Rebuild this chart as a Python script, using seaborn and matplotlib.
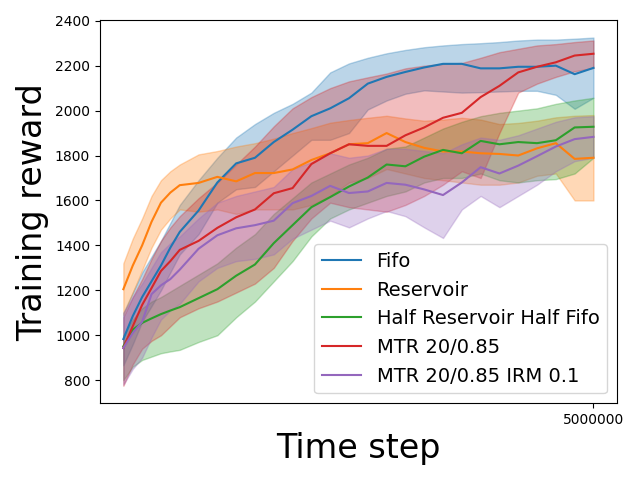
import numpy as np
import pandas as pd
import matplotlib
matplotlib.use("Agg")
import matplotlib.pyplot as plt
import seaborn as sns

# time steps (finer at the start where curves rise fast)
steps = [0, 100000, 200000, 300000, 400000, 500000, 600000, 800000, 1000000, 1200000,
         1400000, 1600000, 1800000, 2000000, 2200000, 2400000, 2600000, 2800000,
         3000000, 3200000, 3400000, 3600000, 3800000, 4000000, 4200000,
         4400000, 4600000, 4800000, 5000000]

labels = ['Fifo', 'Reservoir', 'Half Reservoir Half Fifo',
          'MTR 20/0.85', 'MTR 20/0.85 IRM 0.1']

# mean training reward per method
fifo_mean = [983, 1085, 1170, 1240, 1310, 1390, 1460, 1555, 1680, 1765, 1790, 1860, 1915, 1975,
             2010, 2055, 2120, 2150, 2172, 2192, 2208, 2208, 2188, 2188, 2195, 2195, 2200, 2162, 2190]
res_mean = [1205, 1310, 1400, 1505, 1590, 1635, 1668, 1678, 1705, 1685, 1722, 1722, 1738, 1780,
            1810, 1850, 1855, 1900, 1860, 1834, 1818, 1818, 1810, 1807, 1800, 1832, 1855, 1785, 1790]
half_mean = [951, 1025, 1055, 1075, 1094, 1110, 1125, 1165, 1205, 1265, 1315, 1410, 1490, 1570,
             1615, 1662, 1702, 1760, 1752, 1795, 1825, 1810, 1865, 1850, 1860, 1855, 1868, 1925, 1928]
mtr_mean = [943, 1040, 1135, 1210, 1286, 1330, 1380, 1420, 1478, 1525, 1560, 1632, 1655, 1762,
            1810, 1850, 1843, 1843, 1890, 1925, 1968, 1990, 2060, 2110, 2170, 2195, 2215, 2245, 2253]
irm_mean = [943, 1010, 1060, 1183, 1222, 1250, 1292, 1385, 1445, 1476, 1490, 1510, 1588, 1620,
            1665, 1633, 1640, 1678, 1670, 1649, 1624, 1680, 1748, 1720, 1755, 1797, 1840, 1873, 1883]

# shaded band edges
fifo_low = [866, 960, 1060, 1130, 1200, 1280, 1360, 1450, 1590, 1650, 1660, 1730, 1800, 1870,
            1870, 1900, 2005, 2045, 2075, 2090, 2085, 2080, 2082, 2085, 2088, 2088, 2070, 2008, 2057]
fifo_high = [1100, 1190, 1280, 1350, 1420, 1500, 1580, 1690, 1790, 1880, 1940, 1990, 2030, 2080,
             2170, 2210, 2235, 2255, 2270, 2282, 2290, 2296, 2300, 2305, 2312, 2316, 2316, 2320, 2325]
res_low = [1090, 1190, 1290, 1390, 1470, 1520, 1560, 1550, 1560, 1540, 1560, 1560, 1560, 1580,
           1620, 1680, 1700, 1740, 1720, 1700, 1690, 1680, 1670, 1670, 1680, 1710, 1720, 1600, 1600]
res_high = [1320, 1430, 1520, 1620, 1690, 1730, 1760, 1805, 1820, 1840, 1855, 1875, 1900, 1922,
            1946, 1958, 1968, 1977, 1965, 1955, 1960, 1968, 1960, 1940, 1945, 1955, 1970, 1977, 1980]
half_low = [800, 860, 890, 905, 920, 928, 935, 970, 1000, 1080, 1150, 1240, 1330, 1440,
            1520, 1560, 1590, 1620, 1640, 1680, 1700, 1700, 1720, 1690, 1680, 1690, 1695, 1720, 1790]
half_high = [1000, 1070, 1120, 1150, 1170, 1195, 1220, 1270, 1320, 1390, 1450, 1540, 1610, 1680,
             1720, 1760, 1790, 1830, 1840, 1880, 1920, 1950, 1975, 1990, 2000, 2010, 2030, 2045, 2057]
mtr_low = [775, 870, 940, 975, 1000, 1040, 1080, 1120, 1150, 1190, 1230, 1300, 1420, 1520,
           1590, 1570, 1560, 1550, 1580, 1620, 1670, 1730, 1700, 1900, 2080, 2120, 2150, 2175, 2190]
mtr_high = [1080, 1170, 1250, 1340, 1420, 1480, 1530, 1610, 1680, 1760, 1840, 1930, 2010, 2060,
            2100, 2130, 2148, 2165, 2188, 2200, 2208, 2212, 2235, 2260, 2275, 2290, 2296, 2305, 2312]
irm_low = [780, 850, 900, 990, 1070, 1110, 1140, 1240, 1300, 1330, 1340, 1360, 1430, 1470,
           1510, 1480, 1520, 1553, 1530, 1480, 1433, 1560, 1620, 1570, 1620, 1670, 1730, 1775, 1790]
irm_high = [1100, 1170, 1230, 1300, 1370, 1410, 1440, 1520, 1590, 1620, 1640, 1660, 1740, 1770,
            1810, 1790, 1800, 1830, 1830, 1820, 1810, 1850, 1880, 1870, 1890, 1920, 1950, 1970, 1975]

means = [fifo_mean, res_mean, half_mean, mtr_mean, irm_mean]
lows = [fifo_low, res_low, half_low, mtr_low, irm_low]
highs = [fifo_high, res_high, half_high, mtr_high, irm_high]
colors = sns.color_palette('tab10', 5)

frames = []
for name, m in zip(labels, means):
    frames.append(pd.DataFrame({'step': steps, 'reward': m, 'method': name}))
df = pd.concat(frames, ignore_index=True)

fig, ax = plt.subplots(figsize=(6.4, 4.8), dpi=100)

for lo, hi, c in zip(lows, highs, colors):
    ax.fill_between(steps, lo, hi, color=c, alpha=0.3, linewidth=1)

sns.lineplot(data=df, x='step', y='reward', hue='method', hue_order=labels,
             palette=colors, linewidth=1.5, ax=ax)

ax.set_xticks([5000000])
ax.set_xticklabels(['5000000'])
ax.set_xlabel('Time step', fontsize=24)
ax.set_ylabel('Training reward', fontsize=24)
ax.legend(loc='lower right', fontsize=14)

plt.subplots_adjust(left=0.156, right=0.964, top=0.958, bottom=0.16)
plt.savefig('out.png', dpi=100)
plt.close()
